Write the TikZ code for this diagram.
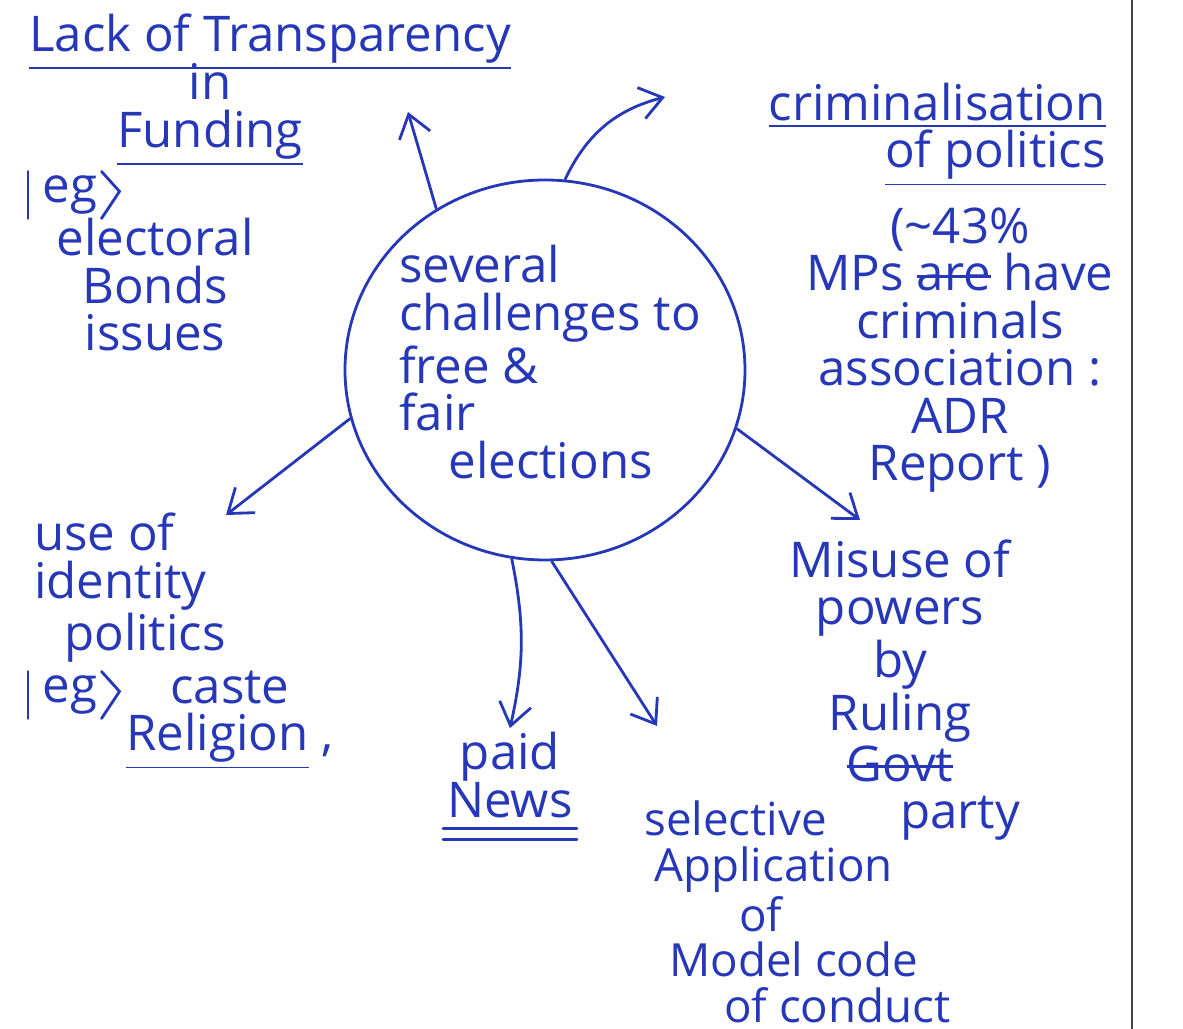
\documentclass[tikz,border=0pt]{standalone}
\usepackage{fontspec}
\setmainfont{Open Sans}
\usetikzlibrary{shapes.geometric, arrows.meta, positioning}
\definecolor{ink}{RGB}{38, 56, 184}
\definecolor{margin}{RGB}{70, 70, 70}
\newsavebox{\strikebox}
\newcommand{\struck}[1]{\sbox{\strikebox}{#1}\usebox{\strikebox}\llap{\rule[0.5ex]{\wd\strikebox}{0.8pt}}}

\begin{document}
\begin{tikzpicture}[
        hand/.style={text=ink, font=\fontsize{14}{13.5}\selectfont, align=center, inner sep=1pt},
        arr/.style={-{Straight Barb[length=2.2mm, width=3.2mm]}, ink, thick},
        stroke/.style={ink, thick, line cap=round}
    ]
        \useasboundingbox (0,0) rectangle (11.83,-10.29);
        % page margin
        \draw[margin, line width=0.8pt] (11.32,0) -- (11.32,-10.29);
        % Centre
        \node[ellipse, draw=ink, thick, minimum width=4cm, minimum height=3.8cm] (hub) at (5.45,-3.7) {};
        \node[hand, align=left] (hubtext) at (5.5,-3.62) {several\\challenges to\\free \&\\fair\\\quad elections};
        % Funding
        \node[hand] (lack) at (2.7,-0.42) {\underline{Lack of Transparency}};
        \node[hand] (fund) at (2.1,-1.15) {in\\\underline{Funding}};
        \node[hand] (eg1) at (0.7,-1.95) {eg};
        \node[hand] (bonds) at (1.55,-2.85) {electoral\\Bonds\\issues};
        % Criminalisation
        \node[hand, align=right, anchor=east] (crim) at (11.1,-1.35) {\underline{criminalisation}\\\underline{of politics}};
        \node[hand] (crimnote) at (9.6,-3.5) {(\textasciitilde 43\%\\MPs \struck{are} have\\criminals\\association :\\ADR\\Report )};
        % Misuse of powers
        \node[hand] (misuse) at (9.0,-6.9) {Misuse of\\powers\\by\\Ruling\\\struck{Govt}\\\hspace{1.2cm}party};
        % Identity politics
        \node[hand, align=left, anchor=west] (ident) at (0.3,-5.88) {use of\\identity\\\hspace{0.3cm}politics};
        \node[hand] (eg2) at (0.7,-6.95) {eg};
        \node[hand] (relig) at (2.3,-7.2) {caste\\\underline{Religion} ,};
        % Paid news
        \node[hand] (paid) at (5.1,-7.75) {paid\\News};
        % Model code
        \node[hand, font=\fontsize{13}{13}\selectfont, align=left, anchor=west] (sel) at (6.4,-9.12)
            {selective\\\hspace{0.1cm}Application\\\hspace{0.95cm}of\\\hspace{0.25cm}Model code\\\hspace{0.8cm}of conduct};
        % eg marks
        \draw[stroke] ([xshift=-3pt]eg1.north west) -- ([xshift=-3pt]eg1.south west);
        \draw[stroke] (eg1.north east) -- ++(0.18,-0.2) -- (eg1.south east);
        \draw[stroke] ([xshift=-3pt]eg2.north west) -- ([xshift=-3pt]eg2.south west);
        \draw[stroke] (eg2.north east) -- ++(0.18,-0.2) -- (eg2.south east);
        % double underline
        \draw[stroke] ([yshift=-2pt]paid.south west) -- ([yshift=-2pt]paid.south east);
        \draw[stroke] ([yshift=-5pt]paid.south west) -- ([yshift=-5pt]paid.south east);
        % Arrows
        \coordinate (lackTip) at (4.08,-1.12);
        \coordinate (crimTip) at (6.65,-0.97);
        \coordinate (misTip) at (8.6,-5.2);
        \coordinate (idTip) at (2.26,-5.15);
        \coordinate (selTip) at (6.57,-7.26);
        \draw[arr] (hub.124) -- (lackTip);
        \draw[arr] (hub.84) to[bend left=25] (crimTip);
        \draw[arr] (hub.-17) -- (misTip);
        \draw[arr] (hub.194) -- (idTip);
        \draw[arr] (hub.260) to[bend left=12] (paid.north);
        \draw[arr] (hub.272) -- (selTip);
    \end{tikzpicture}
\end{document}
